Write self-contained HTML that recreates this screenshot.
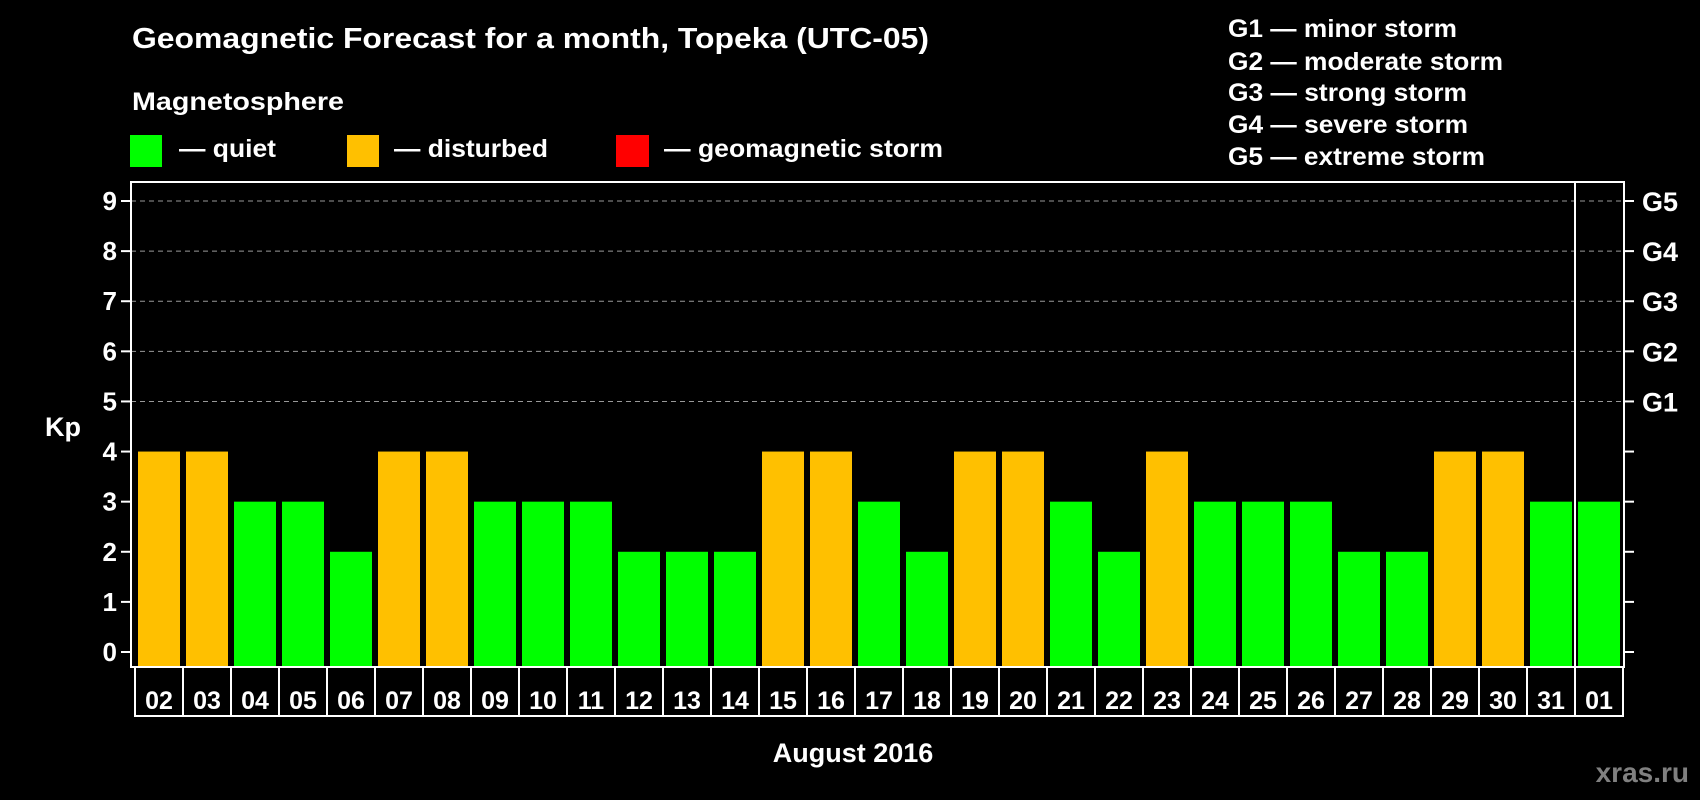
<!DOCTYPE html>
<html><head><meta charset="utf-8"><style>
html,body{margin:0;padding:0;background:#000;}
svg{display:block;font-family:"Liberation Sans",Arial,sans-serif;font-weight:bold;}
</style></head><body>
<svg id="chart" width="1700" height="800" viewBox="0 0 1700 800" xmlns="http://www.w3.org/2000/svg">
<rect width="1700" height="800" fill="#000"/>
<text x="132" y="48" font-size="29" fill="#fff" textLength="797" lengthAdjust="spacingAndGlyphs">Geomagnetic Forecast for a month, Topeka (UTC-05)</text>
<text x="132" y="110" font-size="25" fill="#fff" textLength="212" lengthAdjust="spacingAndGlyphs">Magnetosphere</text>
<rect x="130" y="135" width="32" height="32" fill="#00ff00"/>
<text x="179" y="157" font-size="25" fill="#fff" textLength="97" lengthAdjust="spacingAndGlyphs">— quiet</text>
<rect x="347" y="135" width="32" height="32" fill="#ffc000"/>
<text x="394" y="157" font-size="25" fill="#fff" textLength="154" lengthAdjust="spacingAndGlyphs">— disturbed</text>
<rect x="616" y="135" width="33" height="32" fill="#ff0000"/>
<text x="664" y="157" font-size="25" fill="#fff" textLength="279" lengthAdjust="spacingAndGlyphs">— geomagnetic storm</text>
<g font-size="25" fill="#fff">
<text x="1228" y="37" textLength="229" lengthAdjust="spacingAndGlyphs">G1 — minor storm</text>
<text x="1228" y="70" textLength="275" lengthAdjust="spacingAndGlyphs">G2 — moderate storm</text>
<text x="1228" y="101" textLength="239" lengthAdjust="spacingAndGlyphs">G3 — strong storm</text>
<text x="1228" y="133" textLength="240" lengthAdjust="spacingAndGlyphs">G4 — severe storm</text>
<text x="1228" y="165" textLength="257" lengthAdjust="spacingAndGlyphs">G5 — extreme storm</text>
</g>
<g id="grid"></g>
<g id="bars"></g>
<g id="axes"></g>
<text x="63" y="436" font-size="27" fill="#fff" text-anchor="middle">Kp</text>
<text x="853" y="762" font-size="27" fill="#fff" text-anchor="middle">August 2016</text>
<text x="1689" y="782" font-size="28" fill="#808080" text-anchor="end">xras.ru</text>
</svg>
<script>
const days = ["02","03","04","05","06","07","08","09","10","11","12","13","14","15","16","17","18","19","20","21","22","23","24","25","26","27","28","29","30","31","01"];
const kpValues = [4,4,3,3,2,4,4,3,3,3,2,2,2,4,4,3,2,4,4,3,2,4,3,3,3,2,2,4,4,3,3];
const yTicks = [0,1,2,3,4,5,6,7,8,9];
const gLabels = ["G1","G2","G3","G4","G5"];
const gLevels = [5,6,7,8,9];

const NS="http://www.w3.org/2000/svg";
const L=131,R=1624,T=182,B=667;
const y0=652,unit=(652-201)/9;
function yS(v){return y0-v*unit;}
const pitch=48,x0=138,bw=42;
function xS(i){return x0+i*pitch;}
function mk(tag,attrs,parent){const e=document.createElementNS(NS,tag);for(const k in attrs)e.setAttribute(k,attrs[k]);parent.appendChild(e);return e;}
const grid=document.getElementById('grid'),bars=document.getElementById('bars'),axes=document.getElementById('axes');
gLevels.forEach((v,i)=>{
  const ln=mk('line',{x1:L,x2:R,y1:yS(v),y2:yS(v),stroke:'#999','stroke-width':1,'stroke-dasharray':'5,4'},grid);
  
  
  const t=mk('text',{x:1642,y:yS(v)+10,'font-size':27,fill:'#fff'},axes);
  t.textContent=gLabels[i];
  
  
});
kpValues.forEach((v,i)=>{
  const r=mk('rect',{x:xS(i),y:yS(v),width:bw,height:B-yS(v)-1,fill:v>=5?'#ff0000':(v>=4?'#ffc000':'#00ff00')},bars);
  
  
});
const fr=mk('rect',{x:L,y:T,width:R-L,height:B-T,fill:'none',stroke:'#fff','stroke-width':2},axes);


const n=days.length;
const sep=mk('line',{x1:xS(n-1)-3,x2:xS(n-1)-3,y1:T,y2:B,stroke:'#fff','stroke-width':2},axes);


yTicks.forEach(v=>{
  const a=mk('line',{x1:121,x2:L,y1:yS(v),y2:yS(v),stroke:'#fff','stroke-width':2},axes);
  
  
  const b=mk('line',{x1:R,x2:1634,y1:yS(v),y2:yS(v),stroke:'#fff','stroke-width':2},axes);
  
  
  const t=mk('text',{x:117,y:yS(v)+9,'font-size':26,fill:'#fff','text-anchor':'end'},axes);
  t.textContent=v;
  
  
});
days.forEach((d,i)=>{
  const bx=mk('rect',{x:xS(i)-3,y:B,width:pitch,height:49,fill:'none',stroke:'#fff','stroke-width':2},axes);
  
  
  const t=mk('text',{x:xS(i)+bw/2,y:709,'font-size':25,fill:'#fff','text-anchor':'middle'},axes);
  t.textContent=d;
  
  
});
</script>
</body></html>
